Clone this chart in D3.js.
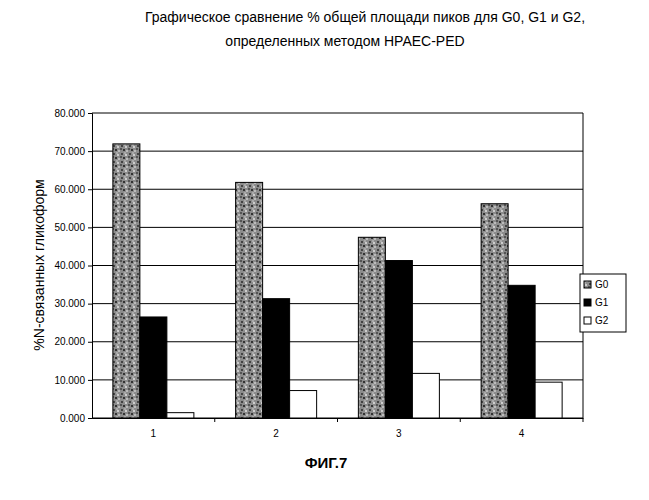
<!DOCTYPE html>
<html><head><meta charset="utf-8">
<script src="https://cdn.jsdelivr.net/npm/d3@7"></script>
<style>body{margin:0;background:#fff}text{font-family:"Liberation Sans",Arial,sans-serif}</style>
</head><body><svg width="649" height="500"></svg>
<script>
const categories = ["1", "2", "3", "4"];
const seriesNames = ["G0", "G1", "G2"];
const g0 = [71.9, 61.8, 47.4, 56.2];
const g1 = [26.5, 31.3, 41.3, 34.8];
const g2 = [1.4, 7.2, 11.7, 9.4];
const yTicks = [0, 10, 20, 30, 40, 50, 60, 70, 80];

const svg = d3.select("svg");
const margin = { top: 113, left: 92, right: 66, bottom: 82 };
const width = 649, height = 500;

// speckled grey pattern for G0
const defs = svg.append("defs");
const pat = defs.append("pattern").attr("id", "speck").attr("width", 8).attr("height", 8)
  .attr("patternUnits", "userSpaceOnUse");
pat.append("rect").attr("width", 8).attr("height", 8).attr("fill", "#8c8c8c");
[[1,1,"#444"],[5,2,"#ccc"],[3,5,"#333"],[6,6,"#bbb"],[0,4,"#555"],[4,0,"#aaa"]].forEach(p =>
  pat.append("rect").attr("x", p[0]).attr("y", p[1]).attr("width", 2).attr("height", 2).attr("fill", p[2]));

const fills = ["url(#speck)", "#000", "#fff"];

const x0 = d3.scaleBand().domain(categories).range([margin.left, width - margin.right])
  .paddingInner(0.34).paddingOuter(0.17);
const x1 = d3.scaleBand().domain(seriesNames).range([0, x0.bandwidth()]);
const y = d3.scaleLinear().domain([0, 80]).range([height - margin.bottom, margin.top]);

// gridlines
svg.append("g").selectAll("line").data(yTicks).enter().append("line")
  .attr("x1", margin.left).attr("x2", width - margin.right)
  .attr("y1", d => y(d)).attr("y2", d => y(d)).attr("stroke", "#000").attr("stroke-width", 1);
svg.append("line").attr("x1", width - margin.right).attr("x2", width - margin.right)
  .attr("y1", y(80)).attr("y2", y(0)).attr("stroke", "#000");

const data = [g0, g1, g2];
categories.forEach((c, i) => {
  seriesNames.forEach((s, j) => {
    svg.append("rect").attr("x", x0(c) + x1(s)).attr("width", x1.bandwidth())
      .attr("y", y(data[j][i])).attr("height", y(0) - y(data[j][i]))
      .attr("fill", fills[j]).attr("stroke", "#000").attr("stroke-width", 1);
  });
});

const yAxis = d3.axisLeft(y).tickValues(yTicks).tickFormat(d3.format(",.3f")).tickSize(4);
svg.append("g").attr("transform", `translate(${margin.left},0)`).call(yAxis)
  .call(g => g.selectAll("text").attr("font-size", 10).attr("fill", "#000"));
const xAxis = d3.axisBottom(d3.scalePoint().domain(["", ...categories, " "]).range([margin.left, width - margin.right]))
  .tickSize(4).tickFormat(() => "");
const xs = d3.scaleBand().domain(categories).range([margin.left, width - margin.right]);
svg.append("g").attr("transform", `translate(0,${y(0)})`)
  .call(d3.axisBottom(xs).tickSize(0).tickPadding(12))
  .call(g => g.selectAll("text").attr("font-size", 10).attr("fill", "#000"));
// band boundary ticks
svg.append("g").selectAll("line").data(categories).enter().append("line")
  .attr("x1", d => xs(d) + xs.bandwidth()).attr("x2", d => xs(d) + xs.bandwidth())
  .attr("y1", y(0)).attr("y2", y(0) + 4).attr("stroke", "#000");

// legend
const lg = svg.append("g").attr("transform", "translate(580,274)");
lg.append("rect").attr("width", 46).attr("height", 58).attr("fill", "#fff").attr("stroke", "#000");
seriesNames.forEach((s, j) => {
  lg.append("rect").attr("x", 4).attr("y", 7 + j * 18).attr("width", 7).attr("height", 7)
    .attr("fill", fills[j]).attr("stroke", "#000");
  lg.append("text").attr("x", 15).attr("y", 14 + j * 18).attr("font-size", 10).text(s);
});

svg.append("text").attr("x", 365).attr("y", 22).attr("text-anchor", "middle").attr("font-size", 14)
  .text("Графическое сравнение % общей площади пиков для G0, G1 и G2,");
svg.append("text").attr("x", 345).attr("y", 46).attr("text-anchor", "middle").attr("font-size", 14)
  .text("определенных методом HPAEC-PED");
svg.append("text").attr("transform", "translate(44,265) rotate(-90)").attr("text-anchor", "middle")
  .attr("font-size", 14).text("%N-связанных гликоформ");
svg.append("text").attr("x", 326).attr("y", 468).attr("text-anchor", "middle").attr("font-size", 15)
  .attr("font-weight", "bold").text("ФИГ.7");
</script></body></html>
